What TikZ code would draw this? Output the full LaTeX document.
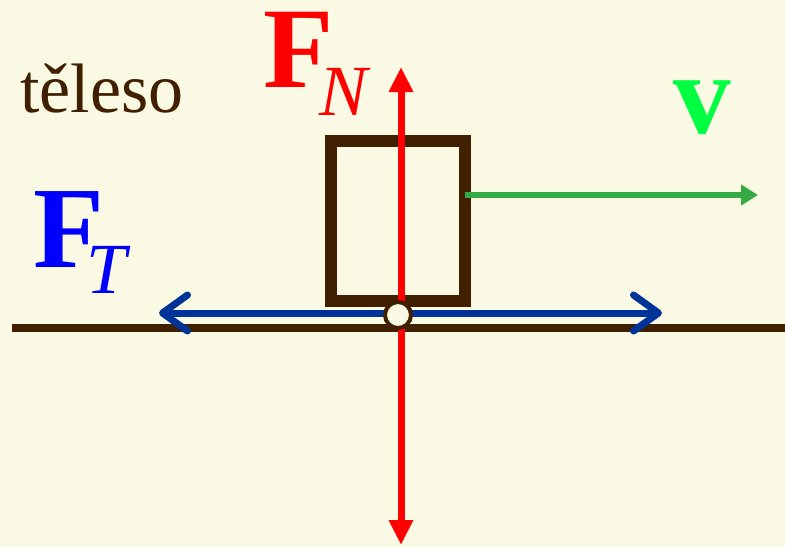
\documentclass[tikz,border=0pt]{standalone}
\usepackage{fontspec}
\setmainfont{Liberation Serif}
\usetikzlibrary{arrows.meta}
\definecolor{bg}{RGB}{250,250,228}
\definecolor{brn}{RGB}{64,32,0}
\definecolor{fblue}{RGB}{0,51,153}
\definecolor{lblue}{RGB}{0,0,255}
\definecolor{vgreen}{RGB}{0,255,64}
\definecolor{agreen}{RGB}{51,170,68}
\definecolor{fred}{RGB}{255,0,0}
\tikzset{
  lbl/.style={inner sep=0pt, anchor=base west},
  bodybox/.style={draw=brn, line width=12pt, minimum width=134pt, minimum height=160pt, inner sep=0pt},
  contact/.style={circle, draw=brn, fill=bg, line width=4pt, minimum size=26pt, inner sep=0pt},
  ground/.style={draw=brn, line width=8pt},
  normalf/.style={draw=fred, line width=7pt, {Triangle[length=25pt,width=23pt]}-{Triangle[length=25pt,width=23pt]}},
  frictf/.style={draw=fblue, line width=7pt, line cap=round, {Straight Barb[length=25pt,width=36pt,line cap=round,line join=round]}-{Straight Barb[length=25pt,width=36pt,line cap=round,line join=round]}},
  velo/.style={draw=agreen, line width=6pt, -{Triangle[length=17pt,width=20pt]}}
}
\begin{document}
\begin{tikzpicture}[x=1pt,y=-1pt]
\fill[bg] (0,0) rectangle (785,547);
\useasboundingbox (0,0) rectangle (785,547);
% ground
\coordinate (gl) at (12,328);
\coordinate (gr) at (785,328);
\draw[ground] (gl) -- (gr);
% body
\node[bodybox] (body) at (398,221) {};
% contact point
\coordinate (cp) at (398,315);
% velocity
\coordinate (vs) at (465,195);
\coordinate (ve) at (758,195);
\draw[velo] (vs) -- (ve);
% friction
\coordinate (tl) at (159,313);
\coordinate (tr) at (662,313);
\draw[frictf] (tl) -- (tr);
% normal
\coordinate (nt) at (401,67);
\coordinate (nb) at (401,545);
\draw[normalf] (nb) -- (nt);
\node[contact] (c) at (cp) {};
% labels
\node[lbl, text=brn] (tel) at (20,112) {\fontsize{70}{84}\selectfont těleso};
\node[lbl, text=fred] (fn) at (263,87) {\fontsize{115}{130}\selectfont\bfseries F\kern-14pt\raisebox{-28pt}{\fontsize{72}{80}\selectfont\mdseries\itshape N}};
\node[lbl, text=lblue] (ft) at (33,267) {\fontsize{116}{130}\selectfont\bfseries F\kern-18pt\raisebox{-26pt}{\fontsize{72}{80}\selectfont\mdseries\itshape T}};
\node[lbl, text=vgreen] (v) at (673,133) {\fontsize{115}{130}\selectfont\bfseries v};
\end{tikzpicture}
\end{document}
